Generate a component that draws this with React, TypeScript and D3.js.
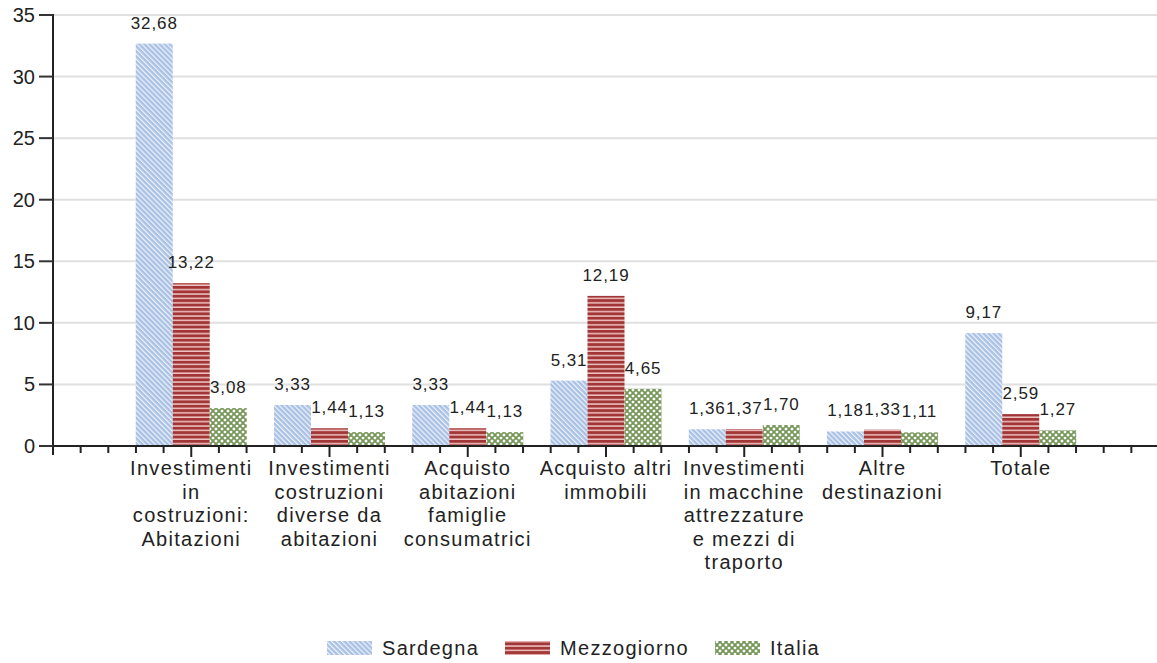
import React from "react";
import * as d3 from "d3";

const categories: string[][] = [
  ["Investimenti", "in", "costruzioni:", "Abitazioni"],
  ["Investimenti", "costruzioni", "diverse da", "abitazioni"],
  ["Acquisto", "abitazioni", "famiglie", "consumatrici"],
  ["Acquisto altri", "immobili"],
  ["Investimenti", "in macchine", "attrezzature", "e mezzi di", "traporto"],
  ["Altre", "destinazioni"],
  ["Totale"],
];
const seriesNames = ["Sardegna", "Mezzogiorno", "Italia"];
const sardegna = [32.68, 3.33, 3.33, 5.31, 1.36, 1.18, 9.17];
const mezzogiorno = [13.22, 1.44, 1.44, 12.19, 1.37, 1.33, 2.59];
const italia = [3.08, 1.13, 1.13, 4.65, 1.7, 1.11, 1.27];
const yTicks = [0, 5, 10, 15, 20, 25, 30, 35];

const W = 1157;
const H = 663;
const left = 53;
const right = 1159;
const top = 15;
const bottom = 446;
const barW = 37;

export default function App() {
  const series = [sardegna, mezzogiorno, italia];
  const x = d3.scaleLinear().domain([0, 8]).range([left, right]);
  const y = d3.scaleLinear().domain([0, 35]).range([bottom, top]);
  const minorTicks = d3.range(0, 41).map((i) => i / 5);
  const fmt = (v: number) => v.toFixed(2).replace(".", ",");
  const patIds = ["pSard", "pMezz", "pItal"];
  const font = "'Liberation Sans', Arial, sans-serif";
  const legendX = [327, 505, 715];

  return (
    <div style={{ position: "absolute", left: 0, top: 0 }}>
      <style>{`body{margin:0}`}</style>
      <svg width={W} height={H} style={{ display: "block", background: "#fff" }}>
        <defs>
          <pattern id="pSard" patternUnits="userSpaceOnUse" width={3.6} height={3.6} patternTransform="rotate(-45)">
            <rect width={3.6} height={3.6} fill="#a9c1e4" />
            <rect width={1.2} height={3.6} fill="#eef3fb" />
          </pattern>
          <pattern id="pMezz" patternUnits="userSpaceOnUse" width={4.4} height={4.4}>
            <rect width={4.4} height={4.4} fill="#a23535" />
            <rect y={2.9} width={4.4} height={1.5} fill="#efc3c3" />
          </pattern>
          <pattern id="pItal" patternUnits="userSpaceOnUse" width={6} height={6}>
            <rect width={6} height={6} fill="#ffffff" />
            <path d="M0,0L6,6M6,0L0,6M-3,3L3,-3M3,9L9,3M-3,3L3,9M3,-3L9,3" stroke="#77975a" strokeWidth={1.8} />
          </pattern>
        </defs>

        {/* gridlines */}
        {yTicks.filter((t) => t > 0).map((t) => (
          <line key={"g" + t} x1={left} x2={W} y1={y(t)} y2={y(t)} stroke="#e0e0e0" strokeWidth={2} />
        ))}

        {/* bars */}
        {series.map((vals, s) =>
          vals.map((v, i) => {
            const cx = x(i + 1) - 1.5 * barW + s * barW;
            return (
              <rect key={`b${s}-${i}`} x={cx} y={y(v)} width={barW} height={y(0) - y(v)} fill={`url(#${patIds[s]})`} />
            );
          })
        )}

        {/* value labels */}
        {series.map((vals, s) =>
          vals.map((v, i) => {
            const cx = x(i + 1) - 1.5 * barW + s * barW + barW / 2;
            return (
              <text key={`l${s}-${i}`} x={cx} y={y(v) - 15} textAnchor="middle" fontFamily={font} fontSize={17} letterSpacing={0.9} fill="#222">
                {fmt(v)}
              </text>
            );
          })
        )}

        {/* y axis */}
        <line x1={left} x2={left} y1={top - 1} y2={bottom + 9} stroke="#222" strokeWidth={2} />
        {yTicks.map((t) => (
          <g key={"yt" + t}>
            <line x1={left - 14} x2={left} y1={y(t)} y2={y(t)} stroke="#333" strokeWidth={2} />
            <text x={left - 18} y={y(t)} dy="0.35em" textAnchor="end" fontFamily={font} fontSize={20} fill="#222">
              {t}
            </text>
          </g>
        ))}

        {/* x axis */}
        <line x1={left} x2={W} y1={bottom} y2={bottom} stroke="#222" strokeWidth={2} />
        {minorTicks.map((t, i) => {
          const major = i % 5 === 0;
          if (t === 0) return null;
          return (
            <line key={"xt" + i} x1={x(t)} x2={x(t)} y1={bottom} y2={bottom + (major ? 11 : 7)} stroke="#222" strokeWidth={2} />
          );
        })}

        {/* category labels */}
        {categories.map((lines, i) => (
          <text key={"c" + i} x={x(i + 1)} y={475} textAnchor="middle" fontFamily={font} fontSize={20} letterSpacing={1.3} fill="#222">
            {lines.map((ln, j) => (
              <tspan key={j} x={x(i + 1)} dy={j === 0 ? 0 : 23.5}>
                {ln}
              </tspan>
            ))}
          </text>
        ))}

        {/* legend */}
        {seriesNames.map((n, s) => (
          <g key={"lg" + s}>
            <rect x={legendX[s]} y={641} width={45} height={14} fill={`url(#${patIds[s]})`} />
            <text x={legendX[s] + 55} y={655} fontFamily={font} fontSize={20} letterSpacing={1.3} fill="#222">
              {n}
            </text>
          </g>
        ))}
      </svg>
    </div>
  );
}
